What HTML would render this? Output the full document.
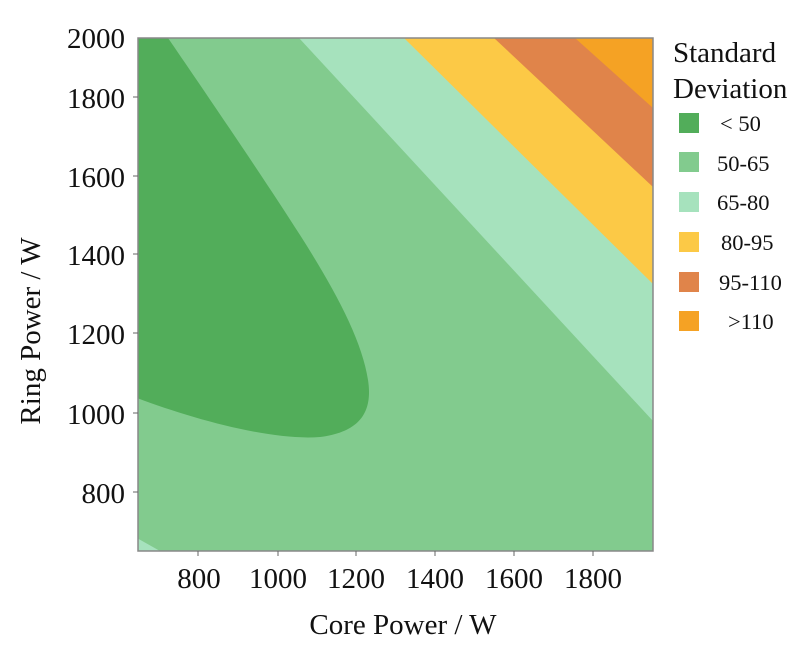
<!DOCTYPE html>
<html><head><meta charset="utf-8"><style>
body{margin:0;background:#fff;}
svg{display:block;font-family:"Liberation Serif",serif;}
</style></head><body>
<svg width="802" height="650" viewBox="0 0 802 650">
<defs><clipPath id="c"><rect x="138" y="38" width="515" height="513"/></clipPath></defs>
<g clip-path="url(#c)">
<rect x="138" y="38" width="515" height="513" fill="#82cb8e"/>
<path d="M299,38 L653,38 L653,421 Z" fill="#a6e2bd"/>
<path d="M404,38 L653,38 L653,284 Z" fill="#fcc946"/>
<path d="M494,38 L653,38 L653,187 Z" fill="#e0844a"/>
<path d="M575,38 L653,38 L653,108 Z" fill="#f5a224"/>
<path d="M137,538 L160,551 L137,551 Z" fill="#a6e2bd"/>
<path d="M137,38 L168,38 C205,92 265,180 300,235 C335,290 362,340 368,380 C373,412 360,432 320,437 C270,441 190,418 137,398 Z" fill="#52ad5a"/>
</g>
<rect x="138" y="38" width="515" height="513" fill="none" stroke="#888" stroke-width="1.5"/>
<g stroke="#666" stroke-width="1">
<line x1="198" y1="551" x2="198" y2="556"/><line x1="278" y1="551" x2="278" y2="556"/><line x1="356" y1="551" x2="356" y2="556"/><line x1="435" y1="551" x2="435" y2="556"/><line x1="514" y1="551" x2="514" y2="556"/><line x1="593" y1="551" x2="593" y2="556"/>
<line x1="133" y1="97" x2="138" y2="97"/><line x1="133" y1="176" x2="138" y2="176"/><line x1="133" y1="254" x2="138" y2="254"/><line x1="133" y1="333" x2="138" y2="333"/><line x1="133" y1="413" x2="138" y2="413"/><line x1="133" y1="492" x2="138" y2="492"/>
</g>
<g font-size="29" fill="#111" text-anchor="middle">
<text x="199" y="588">800</text><text x="278" y="588">1000</text><text x="356" y="588">1200</text><text x="435" y="588">1400</text><text x="514" y="588">1600</text><text x="593" y="588">1800</text>
</g>
<g font-size="29" fill="#111" text-anchor="end">
<text x="125" y="48">2000</text><text x="125" y="108">1800</text><text x="125" y="187">1600</text><text x="125" y="265">1400</text><text x="125" y="344">1200</text><text x="125" y="424">1000</text><text x="125" y="503">800</text>
</g>
<text x="403" y="634" font-size="29" text-anchor="middle" fill="#111">Core Power / W</text>
<text transform="translate(40,331) rotate(-90)" font-size="29" text-anchor="middle" fill="#111">Ring Power / W</text>
<text x="673" y="62" font-size="29" fill="#111">Standard</text>
<text x="673" y="98" font-size="29" fill="#111">Deviation</text>
<rect x="679" y="113" width="20" height="20" fill="#52ad5a"/>
<rect x="679" y="152" width="20" height="20" fill="#82cb8e"/>
<rect x="679" y="192" width="20" height="20" fill="#a6e2bd"/>
<rect x="679" y="232" width="20" height="20" fill="#fcc946"/>
<rect x="679" y="272" width="20" height="20" fill="#e0844a"/>
<rect x="679" y="311" width="20" height="20" fill="#f5a224"/>
<g font-size="22.5" fill="#111">
<text x="720" y="131">&lt; 50</text>
<text x="717" y="171">50-65</text>
<text x="717" y="210">65-80</text>
<text x="721" y="250">80-95</text>
<text x="719" y="290">95-110</text>
<text x="728" y="329">&gt;110</text>
</g>
</svg>
</body></html>
